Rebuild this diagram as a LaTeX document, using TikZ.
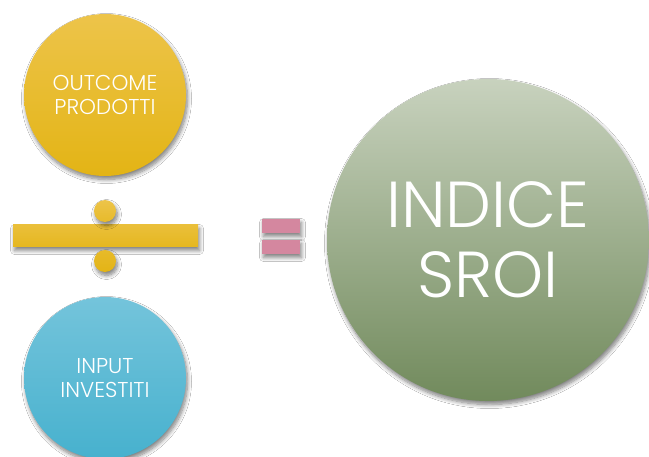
\documentclass[tikz,border=0pt]{standalone}
\usepackage{fontspec}
\setmainfont{Poppins}[UprightFont=* Light]
\usetikzlibrary{shadows.blur}
\definecolor{yTop}{HTML}{EDC44A}
\definecolor{yBot}{HTML}{E3B415}
\definecolor{bTop}{HTML}{74C4DB}
\definecolor{bBot}{HTML}{47B1CE}
\definecolor{gTop}{HTML}{C8D2BE}
\definecolor{gBot}{HTML}{718A5C}
\definecolor{pinkEq}{HTML}{D4879F}
\tikzset{
  softshadow/.style={blur shadow={shadow xshift=1.5pt, shadow yshift=-3.5pt, shadow blur steps=8, shadow blur radius=4pt, shadow opacity=50}},
  ball/.style={circle, minimum size=#1, inner sep=0pt, text=white, align=center, softshadow},
  ylw/.style={top color=yTop, bottom color=yBot},
}
\begin{document}
\begin{tikzpicture}[x=1pt,y=-1pt]
\useasboundingbox (0,0) rectangle (649,457);
\fill[white] (0,0) rectangle (649,457);
% yellow circle
\node[ball=162pt, ylw, font=\fontsize{21.5}{24}\selectfont] (out) at (105,95) {OUTCOME\\PRODOTTI};
% division sign
\node[rectangle, minimum width=185pt, minimum height=22pt, inner sep=0pt, top color=yTop!70!yBot, bottom color=yBot!80!yTop, softshadow] (bar) at (105.5,236) {};
\node[circle, minimum size=22pt, inner sep=0pt, top color=yTop, bottom color=yTop!40!yBot, softshadow] (dot1) at (105,211) {};
\node[circle, minimum size=22pt, inner sep=0pt, top color=yTop!40!yBot, bottom color=yBot, softshadow] (dot2) at (105,261) {};
% blue circle
\node[ball=162pt, top color=bTop, bottom color=bBot, font=\fontsize{21.5}{24}\selectfont] (inp) at (105,378) {INPUT\\INVESTITI};
% equal sign
\node[rectangle, minimum width=38pt, minimum height=14pt, inner sep=0pt, fill=pinkEq, softshadow] (eq1) at (281,226) {};
\node[rectangle, minimum width=38pt, minimum height=14pt, inner sep=0pt, fill=pinkEq, softshadow] (eq2) at (281,247) {};
% green circle
\node[ball=322pt, top color=gTop, bottom color=gBot, font=\fontsize{65}{70}\selectfont] (sroi) at (488,240) {INDICE\\SROI};
\end{tikzpicture}
\end{document}
